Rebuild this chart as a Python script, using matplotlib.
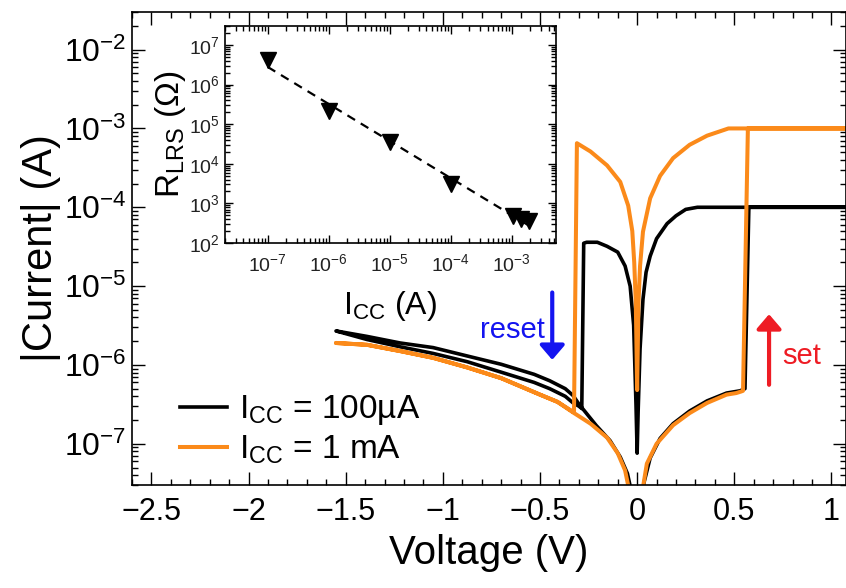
import numpy as np
import matplotlib
matplotlib.use('Agg')
import matplotlib.pyplot as plt
from matplotlib.ticker import LogLocator, MultipleLocator, FixedLocator, FuncFormatter, NullFormatter

plt.rcParams['font.family'] = ['Liberation Sans', 'DejaVu Sans']
plt.rcParams['mathtext.fontset'] = 'custom'
plt.rcParams['mathtext.rm'] = 'Liberation Sans'
plt.rcParams['mathtext.it'] = 'Liberation Sans:italic'
plt.rcParams['mathtext.bf'] = 'Liberation Sans:bold'

# I-V sweep, Icc = 100 uA (0 -> +V set -> back, 0 -> -V reset -> back)
v_100u = [0.02, 0.035, 0.067, 0.118, 0.185, 0.27, 0.36, 0.46, 0.53, 0.555, 0.575, 1.1,
          0.31, 0.25, 0.2, 0.154, 0.10, 0.067, 0.046, 0.03, 0.015, 0.005, 0.0,
          -0.006, -0.018, -0.036, -0.062, -0.10, -0.155, -0.205, -0.26, -0.275,
          -0.285, -0.30, -0.33, -0.37, -0.45, -0.53, -0.70, -0.875, -1.05, -1.22, -1.39, -1.55,
          -1.39, -1.22, -1.05, -0.875, -0.70, -0.53, -0.45, -0.37, -0.33, -0.30,
          -0.21, -0.14, -0.087, -0.05, -0.03, -0.02]
i_100u = [1e-8, 3.2e-8, 6.6e-8, 1.17e-7, 1.8e-7, 2.6e-7, 3.5e-7, 4.4e-7, 4.7e-7, 5.0e-7, 1e-4, 1e-4,
          1e-4, 9.4e-5, 7.8e-5, 6.2e-5, 4.0e-5, 2.4e-5, 1.5e-5, 6.8e-6, 1.6e-6, 2.5e-7, 7.6e-8,
          3.2e-7, 3.2e-6, 1.0e-5, 1.8e-5, 2.7e-5, 3.2e-5, 3.6e-5, 3.6e-5, 3.5e-5,
          2.8e-7, 3.0e-7, 3.3e-7, 4.0e-7, 5.0e-7, 6.0e-7, 8.1e-7, 1.1e-6, 1.4e-6, 1.7e-6, 2.1e-6, 2.7e-6,
          2.3e-6, 1.9e-6, 1.66e-6, 1.3e-6, 1.02e-6, 7.6e-7, 6.3e-7, 5.0e-7, 4.1e-7, 3.2e-7,
          1.7e-7, 1.1e-7, 6.8e-8, 4.2e-8, 2.5e-8, 1e-8]

# I-V sweep, Icc = 1 mA
v_1m = [0.02, 0.03, 0.05, 0.10, 0.185, 0.27, 0.36, 0.46, 0.51, 0.535, 0.545, 0.57, 1.1,
        0.47, 0.36, 0.27, 0.185, 0.118, 0.067, 0.03, 0.015, 0.007, 0.0,
        -0.007, -0.015, -0.025, -0.046, -0.087, -0.155, -0.24, -0.31,
        -0.325, -0.41, -0.50, -0.70, -0.875, -1.05, -1.22, -1.39, -1.55,
        -1.39, -1.22, -1.05, -0.875, -0.70, -0.50, -0.41, -0.33,
        -0.24, -0.155, -0.10, -0.062, -0.04, -0.03]
i_1m = [1e-8, 2.8e-8, 5.6e-8, 1.0e-7, 1.72e-7, 2.45e-7, 3.3e-7, 4.2e-7, 4.4e-7, 4.6e-7, 4.7e-7, 1e-3, 1e-3,
        1e-3, 8.1e-4, 6.2e-4, 4.2e-4, 2.5e-4, 1.3e-4, 4.9e-5, 1.8e-5, 6.3e-6, 4.8e-7,
        6.3e-6, 2.0e-5, 5.0e-5, 1.05e-4, 2.1e-4, 3.4e-4, 5.1e-4, 6.5e-4,
        2.5e-7, 3.4e-7, 4.2e-7, 6.8e-7, 9.3e-7, 1.23e-6, 1.5e-6, 1.8e-6, 1.9e-6,
        1.8e-6, 1.5e-6, 1.23e-6, 9.3e-7, 6.8e-7, 4.2e-7, 3.4e-7, 2.5e-7,
        1.8e-7, 1.2e-7, 7.6e-8, 4.6e-8, 2.5e-8, 1e-8]

# inset: LRS resistance vs compliance current
icc = [1e-7, 1e-6, 1e-5, 1e-4, 1.05e-3, 1.4e-3, 1.9e-3]
r_lrs = [4.2e6, 2.2e5, 3.6e4, 3.1e3, 480, 400, 360]

black = '#000000'
orange = '#fb8a1a'

fig = plt.figure(figsize=(8.46, 5.88), dpi=100)
ax = fig.add_axes([132 / 846, 103 / 588, 714 / 846, 473 / 588])

ax.plot(v_100u, i_100u, color=black, lw=2.6, label=r'I$_{\rm CC}$ = 100µA')
ax.plot(v_1m, i_1m, color=orange, lw=2.9, label=r'I$_{\rm CC}$ = 1 mA')

ax.set_yscale('log')
ax.set_xlim(-2.6, 1.075)
ax.set_ylim(3e-8, 3e-2)
ax.xaxis.set_major_locator(MultipleLocator(0.5))
ax.xaxis.set_minor_locator(MultipleLocator(0.1))
ax.xaxis.set_major_formatter(FuncFormatter(lambda x, p: ('%g' % x).replace('-', '\u2212')))
ax.yaxis.set_major_locator(FixedLocator(10.0 ** np.arange(-7, -1)))
ax.yaxis.set_minor_locator(LogLocator(base=10, subs=np.arange(2, 10), numticks=20))
ax.yaxis.set_minor_formatter(NullFormatter())
ax.tick_params(which='both', direction='in', top=True, right=True, width=1)
ax.tick_params(which='major', length=9.5)
ax.tick_params(which='minor', length=4.5)
ax.tick_params(axis='x', labelsize=22, pad=9)
ax.tick_params(axis='y', labelsize=23, pad=4)
for s in ax.spines.values():
    s.set_linewidth(1.2)
ax.set_xlabel('Voltage (V)', fontsize=29, labelpad=5)
ax.set_ylabel('|Current| (A)', fontsize=30, labelpad=2)

ax.legend(loc='lower left', bbox_to_anchor=(0.035, -0.01), frameon=False, fontsize=24,
          handlelength=1.4, handletextpad=0.35, labelspacing=0.2, borderpad=0.2)

# set / reset arrows
ax.annotate('', xy=(-0.437, 1.16e-6), xytext=(-0.437, 8.3e-6),
            arrowprops=dict(arrowstyle='-|>,head_length=0.35,head_width=0.3', color='#1414f0',
                            lw=3, mutation_scale=25, shrinkA=0, shrinkB=0))
ax.text(-0.475, 2.8e-6, 'reset', color='#1414f0', fontsize=21, ha='right', va='center')
ax.annotate('', xy=(0.679, 4.4e-6), xytext=(0.679, 5.6e-7),
            arrowprops=dict(arrowstyle='-|>,head_length=0.35,head_width=0.3', color='#ee1c24',
                            lw=3, mutation_scale=25, shrinkA=0, shrinkB=0))
ax.text(0.745, 1.3e-6, 'set', color='#ee1c24', fontsize=21, ha='left', va='center')

# inset
axi = fig.add_axes([225 / 846, 345 / 588, 331 / 846, 217 / 588])
axi.set_xscale('log')
axi.set_yscale('log')
lx = np.log10(icc)
ly = np.log10(r_lrs)
fit = np.poly1d(np.polyfit(lx, ly, 1))
xf = np.linspace(lx[0], lx[-1], 50)
axi.plot(10 ** xf, 10 ** fit(xf), color=black, lw=1.6, ls=(0, (4, 3)))
axi.plot(icc, r_lrs, ls='none', marker='v', ms=11, color=black)
axi.set_xlim(2e-8, 5.3e-3)
axi.set_ylim(1e2, 3e7)
axi.xaxis.set_major_locator(FixedLocator(10.0 ** np.arange(-7, -2)))
axi.yaxis.set_major_locator(FixedLocator(10.0 ** np.arange(2, 8)))
for a in (axi.xaxis, axi.yaxis):
    a.set_minor_locator(LogLocator(base=10, subs=np.arange(2, 10), numticks=20))
    a.set_minor_formatter(NullFormatter())
axi.tick_params(which='both', direction='in', top=True, right=True, width=1,
                labelsize=14, labelcolor='#222222')
axi.tick_params(which='major', length=6)
axi.tick_params(which='minor', length=3.5)
axi.tick_params(axis='x', pad=7)
for s in axi.spines.values():
    s.set_linewidth(1.2)
axi.set_xlabel(r'I$_{\rm CC}$ (A)', fontsize=23, labelpad=10)
axi.set_ylabel(r'R$_{\rm LRS}$ (Ω)', fontsize=24, labelpad=1)

fig.savefig('out.png', dpi=100)
